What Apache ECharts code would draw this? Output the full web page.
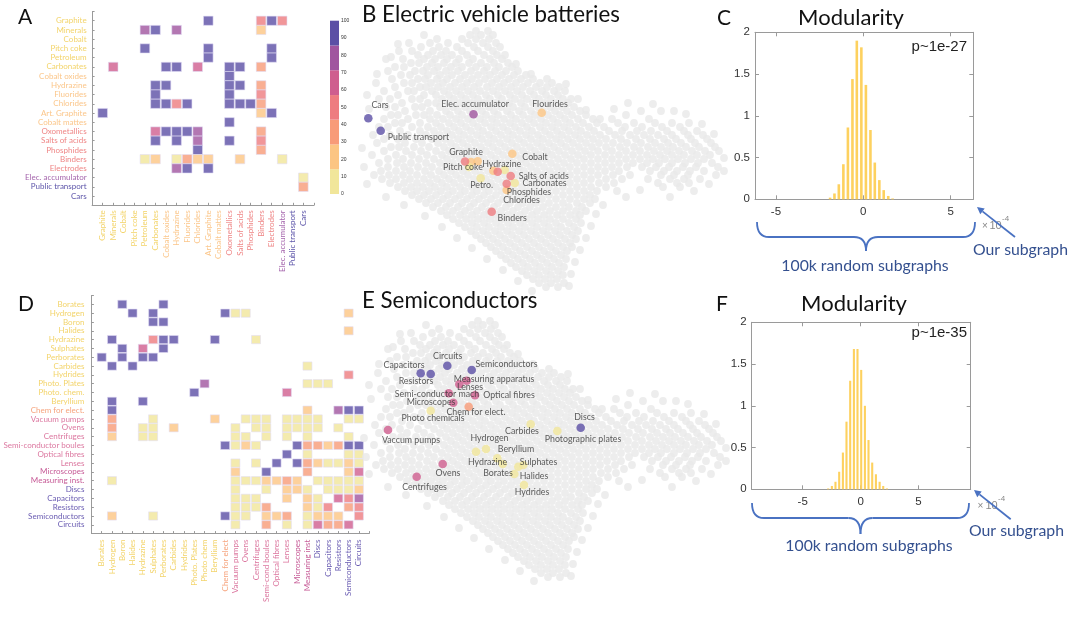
<!DOCTYPE html>
<html><head><meta charset="utf-8">
<script src="https://cdn.jsdelivr.net/npm/echarts@6/dist/echarts.min.js"></script>
<style>html,body{margin:0;padding:0;background:#fff}#c{width:1079px;height:617px}</style>
</head><body><div id="c"></div>
<script>
// ---------- data ----------
const bandColors = ['#f1e69a','#fcc583','#f89b78','#ee7c80','#cf5e8e','#a0559f','#5b4fa5'];
const bandEdges = [0,14.3,28.6,42.9,57.1,71.4,85.7,100];

const namesA = ['Graphite','Minerals','Cobalt','Pitch coke','Petroleum','Carbonates','Cobalt oxides','Hydrazine','Fluorides','Chlorides','Art. Graphite','Cobalt mattes','Oxometallics','Salts of acids','Phosphides','Binders','Electrodes','Elec. accumulator','Public transport','Cars'];
const groupA = [0,0,0,0,0,0,1,1,1,1,1,1,2,2,2,2,2,3,4,4];
const paletteA = ['#f3d46b','#fbc68a','#ef8686','#a566ad','#5d55a9'];
// [col, row, value]
const cellsA = [
[10,0,95],[15,0,50],[16,0,95],[17,0,50],
[4,1,78],[5,1,95],[7,1,78],[15,1,21],
[4,3,95],[10,3,95],[16,3,95],
[10,4,95],[16,4,95],
[1,5,64],[6,5,95],[7,5,95],[9,5,64],[12,5,95],[13,5,95],[15,5,36],
[12,6,95],
[5,7,95],[6,7,95],[12,7,95],[13,7,95],[15,7,36],
[5,8,95],[12,8,95],[15,8,50],
[5,9,95],[6,9,95],[7,9,50],[8,9,95],[12,9,95],[13,9,95],[14,9,95],[15,9,36],
[0,10,95],[15,10,21],[16,10,95],
[12,11,95],
[5,12,64],[6,12,95],[7,12,95],[8,12,95],[9,12,78],[15,12,36],
[5,13,95],[7,13,95],[9,13,78],[12,13,95],[15,13,50],
[9,14,95],[15,14,36],
[4,15,7],[5,15,21],[7,15,7],[8,15,36],[9,15,21],[10,15,21],[13,15,21],[17,15,7],
[7,16,78],[8,16,95],[10,16,95],
[19,17,7],
[19,18,36]
];

const namesDy = ['Borates','Hydrogen','Boron','Halides','Hydrazine','Sulphates','Perborates','Carbides','Hydrides','Photo. Plates','Photo. chem.','Beryllium','Chem for elect.','Vacuum pumps','Ovens','Centrifuges','Semi-conductor boules','Optical fibres','Lenses','Microscopes','Measuring inst.','Discs','Capacitors','Resistors','Semiconductors','Circuits'];
const namesDx = ['Borates','Hydrogen','Boron','Halides','Hydrazine','Sulphates','Perborates','Carbides','Hydrides','Photo. Plates','Photo chem','Beryllium','Chem for elect','Vacuum pumps','Ovens','Centrifuges','Semi-cond boules','Optical fibres','Lenses','Microscopes','Measuring inst','Discs','Capacitors','Resistors','Semiconductors','Circuits'];
const groupD = [0,0,0,0,0,0,0,0,0,0,0,0,1,2,2,2,2,2,2,3,3,4,4,4,4,4];
const paletteD = ['#f3d46b','#f6a37c','#dc78a0','#c65a96','#6a5cb2'];
const cellsD = [
[2,0,95],[6,0,95],
[3,1,95],[5,1,95],[12,1,95],[13,1,7],[14,1,7],[24,1,21],
[5,2,95],[6,2,95],
[24,3,21],
[1,4,95],[5,4,50],[6,4,95],[7,4,95],[11,4,95],[15,4,7],
[2,5,95],[4,5,64],[6,5,95],
[0,6,95],[2,6,95],[4,6,95],[5,6,95],
[1,7,95],[3,7,95],[20,7,7],
[24,8,50],
[10,9,78],[20,9,7],[21,9,7],[22,9,7],
[9,10,95],[18,10,64],
[1,11,95],[4,11,95],
[1,12,95],[20,12,21],[23,12,78],[24,12,95],[25,12,95],
[1,13,36],[5,13,7],[11,13,21],[14,13,7],[15,13,7],[16,13,7],[18,13,7],[19,13,7],[20,13,7],[21,13,7],[24,13,7],[25,13,7],
[1,14,36],[4,14,7],[5,14,7],[7,14,21],[13,14,7],[15,14,7],[16,14,7],[18,14,7],[19,14,7],[20,14,7],[21,14,7],[23,14,7],
[1,15,21],[4,15,7],[5,15,7],[13,15,7],[14,15,7],[16,15,7],[18,15,7],[20,15,7],[24,15,7],
[12,16,95],[13,16,7],[14,16,21],[15,16,7],[19,16,95],[20,16,36],[21,16,36],[22,16,21],[23,16,36],[24,16,95],[25,16,95],
[18,17,95],[20,17,7],[24,17,7],[25,17,7],
[13,18,7],[15,18,7],[17,18,95],[19,18,95],[20,18,36],[21,18,21],[22,18,7],[23,18,7],[24,18,21],[25,18,7],
[13,19,21],[16,19,95],[20,19,36],[24,19,21],[25,19,64],
[1,20,7],[13,20,7],[14,20,7],[15,20,7],[16,20,21],[17,20,21],[18,20,36],[19,20,21],[21,20,7],[22,20,7],[23,20,7],[24,20,7],[25,20,7],
[13,21,7],[16,21,7],[18,21,21],[19,21,21],[20,21,7],[22,21,7],[23,21,7],[24,21,7],[25,21,21],
[13,22,7],[14,22,7],[15,22,7],[18,22,21],[20,22,21],[21,22,7],[23,22,64],[24,22,50],[25,22,78],
[13,23,7],[14,23,7],[15,23,7],[16,23,36],[20,23,21],[21,23,7],[22,23,50],[24,23,36],[25,23,50],
[1,24,21],[5,24,7],[12,24,95],[13,24,7],[14,24,7],[16,24,21],[17,24,21],[18,24,36],[20,24,7],[21,24,21],[22,24,21],[23,24,21],[25,24,50],
[13,25,7],[16,25,36],[18,25,7],[20,25,7],[21,25,64],[22,25,36],[23,25,36],[24,25,64]
];

// background embedding cloud: rows of [y, x1, x2, ...] (embedding units)
const cloudRows = [
[31,476,488],
[35,424,470,481,493],
[39,437,462,476,489],
[43,409,430,448,468,483,496],
[47,421,439,457,474,488,500],
[51,399,412,433,446,462,478,493],
[55,418,428,441,452,467,484,497,505],
[59,386,403,424,435,447,459,473,490,502],
[63,411,419,432,444,456,469,481,494,508],
[67,395,404,427,438,451,462,476,487,499,512],
[71,388,415,423,434,446,458,471,484,495,506,518],
[75,401,410,428,440,452,465,478,490,502,514,526],
[79,392,418,425,437,447,460,472,485,497,509,521,533],
[83,376,404,412,431,443,455,467,479,492,504,516,528,540,552],
[87,395,420,426,438,450,462,474,487,499,511,523,536,547,559],
[91,384,408,414,432,444,456,468,480,493,505,517,530,542,554,565],
[95,398,424,436,449,461,473,486,498,510,522,534,546,558],
[99,379,390,412,420,442,454,466,478,490,502,515,527,539,551,563,571],
[103,402,428,436,448,460,472,484,496,509,521,533,545,557,568],
[107,386,395,415,422,440,453,465,477,489,501,513,525,538,550,562,574],
[111,405,430,446,458,470,482,494,507,519,531,543,555,567,580,641,661,674],
[115,391,398,416,424,437,450,462,474,486,498,511,523,535,548,560,572,586,626],
[119,384,408,430,443,456,468,480,492,504,516,529,541,553,565,578,593,612,649],
[123,395,402,420,436,449,461,473,485,497,510,522,534,546,558,570,583,597,618,634,655,672,689],
[127,379,388,412,428,441,454,466,478,491,503,515,527,540,552,564,576,589,604,625,642,662,680],
[131,400,420,434,447,459,471,483,496,508,520,532,545,557,569,581,594,609,622,637,651,667,684,697],
[135,373,390,408,426,440,452,464,477,489,501,513,526,538,550,562,575,587,600,615,630,644,658,672,688,703],
[139,384,398,416,432,445,458,470,482,494,507,519,531,543,556,568,580,593,606,621,636,650,664,676,691,707],
[143,377,405,422,438,451,463,475,488,500,512,524,537,549,561,573,586,599,613,627,641,655,668,681,695,711],
[147,391,399,414,429,444,456,468,481,493,505,517,530,542,554,566,579,592,606,620,634,648,661,673,686,699,715],
[151,384,406,421,436,449,461,474,486,498,510,523,535,547,559,572,585,598,612,626,640,654,667,679,692,705,719],
[155,372,396,412,427,442,454,467,479,491,503,516,528,540,552,565,578,591,605,619,633,647,660,672,684,697,710],
[159,388,403,419,434,447,460,472,484,496,509,521,533,545,558,571,584,598,612,626,640,653,665,678,691,704],
[163,379,397,411,426,440,453,465,477,489,502,514,526,538,551,564,577,591,605,619,633,647,659,672,685,698,712],
[167,364,388,404,418,432,446,458,470,482,495,507,519,531,544,557,570,584,598,612,627,642,656,669,683,696,718],
[171,381,396,410,425,439,451,463,475,488,500,512,524,537,550,563,577,591,605,619,650,664,677,690,704],
[175,374,389,403,417,431,444,456,468,481,493,505,517,530,543,556,570,584,598,613,630,661,674,688,716],
[179,382,396,410,424,437,449,461,474,486,498,510,523,536,549,563,577,591,606,622,648,670,684,700],
[183,390,404,417,430,442,454,467,479,491,503,516,529,542,556,570,584,599,614,658,677,689],
[187,398,411,423,435,447,460,472,484,496,509,522,535,549,563,577,591,606,663,680],
[191,405,417,429,441,453,465,477,489,502,515,528,542,556,570,584,597,617],
[195,412,424,436,448,460,472,484,496,509,522,535,549,563,577,590],
[199,419,431,443,455,467,479,491,503,516,529,542,556,570,584,595],
[203,426,438,450,462,474,486,498,510,523,536,549,563,577,590],
[207,433,446,458,470,482,494,506,518,530,543,556,569,582],
[211,441,453,465,477,489,501,513,525,537,550,563,576,586],
[215,447,460,472,484,496,508,520,532,544,557,570,580],
[219,453,466,478,490,502,514,526,538,550,563,576],
[223,459,472,484,496,508,520,532,544,556,569,581],
[227,465,477,489,501,513,525,537,549,561,574],
[231,471,483,495,507,519,531,543,555,567,578],
[235,476,488,500,512,524,536,548,560,572],
[239,481,493,505,517,529,541,553,565,576],
[243,486,498,510,522,534,546,558,570],
[247,491,503,515,527,539,551,563,572],
[251,496,508,520,532,544,556,567],
[255,501,513,525,537,549,561],
[259,506,518,530,542,554,566],
[263,511,523,535,547,559],
[267,516,528,540,552,564],
[271,522,534,546,558],
[275,527,539,551,563],
[279,533,545,557],
[283,539,551,564],
[287,546,558]
];
// scattered outlying points around the edge of the cloud: [x, y]
const cloudEdge = [
[398,44],[391,57],[377,74],[367,95],[369,109],[362,148],[367,184],[386,197],[404,205],[425,216],
[442,227],[457,238],[472,248],[487,259],[503,270],[518,281],[532,291],
[516,64],[531,74],[547,79],[566,84],[578,99],[586,110],[600,119],[614,109],[628,103],
[653,104],[686,114],[702,124],[714,134],[724,158],[724,171],[709,184],[694,191],[670,197],
[640,190],[626,197],[603,205],[596,214],[591,226],[586,238],[580,250],[575,262],[571,274],[569,286]
];

// highlighted products: [x, y, colour band]
const dotsB = [
[368.3,118.3,6],[380.7,130.7,6],[473.5,114.3,5],[541.7,112.7,1],[512.3,153.7,1],
[471,162,1],[477.7,161.3,1],[469,167,0],[465,161.5,3],
[493.3,170.7,1],[504.7,170,0],[497.7,171.7,3],[480.7,178.3,0],
[514.7,183,0],[510.7,176,3],[506.7,190,1],[506.7,183.7,3],[491.7,211.7,3]
];
const labelsB = [
['Cars',380,105],['Public transport',418.5,137],['Elec. accumulator',475,103.7],['Flourides',550,103.7],
['Graphite',466,151.7],['Pitch coke',463,166.7],['Hydrazine',501.7,164],['Cobalt',535,156.7],
['Petro.',481.7,185],['Salts of acids',543.8,175.7],['Carbonates',544.5,183],['Phosphides',529,191.7],
['Chlorides',521.5,200],['Binders',512.2,217.7]
];
const dotsE = [
[445.3,75.7,6],[418.7,83.3,6],[428.7,84,6],[469.7,80,6],
[464.7,90.7,4],[457.3,94.3,4],[446.7,103.3,4],[473,105.3,4],[451.3,112.7,4],
[466.7,116.7,2],[428.7,120.7,0],[386,140,4],[578.7,137.7,6],[555.3,141,0],[528.7,134.3,0],
[474,161.7,0],[484,159,0],[495.3,168.3,0],[500.7,174,0],[516.3,176.7,0],[521.3,175,0],
[512.3,184,0],[522,195,0],[440.7,174,4],[414.7,186.7,4]
];
const labelsE = [
['Circuits',445.7,66],['Capacitors',402,75],['Resistors',414,90.7],['Semiconductors',504.5,74],
['Measuring apparatus',492,89],['Lenses',468,96.7],['Semi-conductor mach',435,104.3],['Optical fibres',507,105.3],
['Microscopes',429,111.7],['Chem for elect.',474,122.3],['Photo chemicals',431,128.3],['Vaccum pumps',409,150.3],
['Discs',582.5,126.7],['Photographic plates',581,148.7],['Carbides',520,141],['Hydrogen',487.5,148.3],
['Beryllium',514,159.3],['Hydrazine',485.5,171.7],['Sulphates',536.5,171.7],['Borates',496,183.3],
['Halides',532,185.7],['Hydrides',530,201.7],['Ovens',446,183.3],['Centrifuges',422.5,196.7]
];

// modularity histograms (x in units of 1e-4)
const histCx = [-1.90,-1.65,-1.40,-1.14,-0.88,-0.62,-0.37,-0.11,0.15,0.41,0.66,0.92,1.17,1.43,1.68];
const histCy = [0.02,0.07,0.18,0.42,0.86,1.44,1.90,1.82,1.37,0.83,0.44,0.23,0.11,0.04,0.01];
const histFx = [-2.80,-2.48,-2.17,-1.85,-1.53,-1.22,-0.90,-0.58,-0.27,0.05,0.37,0.68,1.00,1.32,1.64,1.95,2.27];
const histFy = [0.01,0.04,0.09,0.21,0.44,0.81,1.30,1.68,1.68,1.43,1.00,0.59,0.32,0.18,0.09,0.04,0.01];
const histTicks = [-5,0,5];

// ---------- build ----------
const FONT = 'Lato';
const AX = '#9a9a9a';
const cloud = cloudEdge.slice();
cloudRows.forEach(r => { for (let i = 1; i < r.length; i++) cloud.push([r[i], r[0]]); });

function heatX(g, names, group, pal, margin) {
  return {gridIndex:g, type:'value', min:0, max:names.length+1, interval:1,
    axisLine:{onZero:false, lineStyle:{color:AX}}, axisTick:{inside:true, length:2.5, lineStyle:{color:AX}},
    splitLine:{show:false},
    axisLabel:{rotate:90, fontSize:8, fontFamily:FONT, margin:margin,
      formatter:v => names[v-1] || '', color:(v) => pal[group[Number(v)-1]] || '#fff'}};
}
function heatY(g, names, group, pal, margin) {
  return {gridIndex:g, type:'value', inverse:true, min:0, max:names.length+1, interval:1,
    axisLine:{onZero:false, lineStyle:{color:AX}}, axisTick:{inside:true, length:2.5, lineStyle:{color:AX}},
    splitLine:{show:false},
    axisLabel:{fontSize:8, fontFamily:FONT, margin:margin,
      formatter:v => names[v-1] || '', color:(v) => pal[group[Number(v)-1]] || '#fff'}};
}
function embAxes(g) {
  return [{gridIndex:g, type:'value', min:355, max:730, show:false},
          {gridIndex:g, type:'value', min:25, max:300, inverse:true, show:false}];
}
function histX(g, mn, mx, top) {
  return {gridIndex:g, type:'value', min:mn, max:mx, position: top ? 'top' : 'bottom',
    axisLine:{onZero:false, lineStyle:{color:AX}},
    axisTick:{inside:true, length:4, customValues:histTicks, lineStyle:{color:AX}},
    axisLabel:{show:!top, customValues:histTicks, fontSize:11.5, color:'#333', fontFamily:'Liberation Sans', margin:7},
    splitLine:{show:false}};
}
function histY(g, right) {
  return {gridIndex:g, type:'value', min:0, max:2, interval:0.5, position: right ? 'right' : 'left',
    axisLine:{onZero:false, lineStyle:{color:AX}},
    axisTick:{inside:true, length:4, lineStyle:{color:AX}},
    axisLabel:{show:!right, fontSize:11.5, color:'#333', fontFamily:'Liberation Sans', margin:5},
    splitLine:{show:false}};
}
const ea = embAxes(3), ee = embAxes(4);

const grids = [
  {left:92.1, top:11.5, width:221.8, height:193.8},       // 0 A
  {left:330, top:20.7, width:9, height:173.3},             // 1 colorbar
  {left:91.4, top:295.5, width:277.8, height:238.1},       // 2 D
  {left:355, top:25, width:375, height:275},               // 3 B
  {left:357, top:315, width:375, height:275},              // 4 E
  {left:755, top:32.3, width:218.3, height:167},           // 5 C
  {left:751.7, top:322.3, width:219, height:167}           // 6 F
].map(g => Object.assign({containLabel:false, outerBoundsMode:'none'}, g));

const xAxis = [
  heatX(0, namesA, groupA, paletteA, 5),
  {gridIndex:1, type:'category', data:['cb'], show:false},
  heatX(2, namesDx, groupD, paletteD, 6),
  ea[0], ee[0],
  histX(5, -6.2, 6.3, false), histX(5, -6.2, 6.3, true),
  histX(6, -9.4, 9.5, false), histX(6, -9.4, 9.5, true)
];
const yAxis = [
  heatY(0, namesA, groupA, paletteA, 5.5),
  {gridIndex:1, type:'value', min:0, max:100, interval:10, position:'right',
    axisLine:{show:false}, axisTick:{show:false}, splitLine:{show:false},
    axisLabel:{fontSize:5, color:'#333', margin:2, fontFamily:'Liberation Sans'}},
  heatY(2, namesDy, groupD, paletteD, 7),
  ea[1], ee[1],
  histY(5, false), histY(5, true), histY(6, false), histY(6, true)
];

const series = [];
series.push({type:'scatter', xAxisIndex:0, yAxisIndex:0, symbol:'rect', symbolSize:[9.6,9.2],
  itemStyle:{borderColor:'rgba(225,220,245,0.9)', borderWidth:0.8},
  data: cellsA.map(c => [c[0]+1, c[1]+1, c[2]])});
series.push({type:'scatter', xAxisIndex:2, yAxisIndex:2, symbol:'rect', symbolSize:[9,8.2],
  itemStyle:{borderColor:'rgba(225,220,245,0.9)', borderWidth:0.8},
  data: cellsD.map(c => [c[0]+1, c[1]+1, c[2]])});
for (let i = 0; i < 7; i++) {
  series.push({type:'bar', xAxisIndex:1, yAxisIndex:1, stack:'cb', barWidth:'100%',
    itemStyle:{color:bandColors[i]}, data:[bandEdges[i+1]-bandEdges[i]]});
}
function cloudSeries(ax) {
  return {type:'scatter', xAxisIndex:ax, yAxisIndex:ax, symbolSize:7.8, clip:false,
    itemStyle:{color:'#e9e9e9'}, data:cloud};
}
function dotSeries(ax, dots) {
  return {type:'scatter', xAxisIndex:ax, yAxisIndex:ax, symbolSize:8.6, clip:false,
    data: dots.map(d => ({value:[d[0], d[1]], itemStyle:{color:bandColors[d[2]]}}))};
}
function labelSeries(ax, labels) {
  return {type:'scatter', xAxisIndex:ax, yAxisIndex:ax, symbolSize:1, clip:false,
    itemStyle:{color:'rgba(0,0,0,0)'},
    label:{show:true, position:'inside', formatter:p => p.name, fontSize:8.8, fontFamily:FONT, color:'#333'},
    data: labels.map(l => ({name:l[0], value:[l[1], l[2]]}))};
}
series.push(cloudSeries(3), dotSeries(3, dotsB), labelSeries(3, labelsB));
series.push(cloudSeries(4), dotSeries(4, dotsE), labelSeries(4, labelsE));
series.push({type:'bar', xAxisIndex:5, yAxisIndex:5, barWidth:2.6, itemStyle:{color:'#fdd15f'},
  data: histCx.map((x,i) => [x, histCy[i]])});
series.push({type:'bar', xAxisIndex:7, yAxisIndex:7, barWidth:2.1, itemStyle:{color:'#fdd15f'},
  data: histFx.map((x,i) => [x, histFy[i]])});

const BLUE = '#4a72c2', NAVY = '#34508f';
function txt(t, x, y, size, color, align, family) {
  return {type:'text', x:x, y:y, silent:true, z:100,
    style:{text:t, fill:color || '#111', font: (size)+'px '+(family||FONT), textAlign:align||'left', textVerticalAlign:'middle'}};
}
function seg(x1, y1, x2, y2) {
  return {type:'line', silent:true, z:100, shape:{x1:x1, y1:y1, x2:x2, y2:y2}, style:{stroke:BLUE, lineWidth:1.8}};
}
function curve(x1, y1, cx, cy, x2, y2) {
  return {type:'bezierCurve', silent:true, z:100, shape:{x1:x1, y1:y1, x2:x2, y2:y2, cpx1:cx, cpy1:cy},
    style:{stroke:BLUE, lineWidth:1.8, fill:null}};
}
function brace(x0, x1, y0, y1, tipY) {
  const xm = (x0 + x1) / 2, r = 12;
  return [
    curve(x0, y0, x0, y1, x0 + r, y1),
    seg(x0 + r, y1, xm - r, y1),
    curve(xm - r, y1, xm, y1, xm, tipY),
    curve(xm, tipY, xm, y1, xm + r, y1),
    seg(xm + r, y1, x1 - r, y1),
    curve(x1 - r, y1, x1, y1, x1, y0)
  ];
}
function arrow(x0, y0, x1, y1) {
  const dx = x1-x0, dy = y1-y0, L = Math.hypot(dx,dy), ux = dx/L, uy = dy/L;
  const hl = 7, hw = 3.6, bx = x1-ux*hl, by = y1-uy*hl;
  return [
    {type:'line', silent:true, z:101, shape:{x1:x0, y1:y0, x2:bx, y2:by}, style:{stroke:BLUE, lineWidth:1.8}},
    {type:'polygon', silent:true, z:101, shape:{points:[[x1,y1],[bx-uy*hw, by+ux*hw],[bx+uy*hw, by-ux*hw]]}, style:{fill:BLUE}}
  ];
}
const gEls = [
  txt('A', 18, 17.5, 21, '#111'),
  txt('D', 18, 304, 21, '#111'),
  txt('B Electric vehicle batteries', 362, 15, 22.3, '#111'),
  txt('E Semiconductors', 362, 301, 22.3, '#111'),
  txt('C', 717, 18, 21, '#111'),
  txt('F', 716, 304, 21, '#111'),
  txt('Modularity', 851, 18, 22, '#111', 'center'),
  txt('Modularity', 854, 304, 22, '#111', 'center'),
  txt('p~1e-27', 967, 46.5, 15, '#222', 'right', 'Liberation Sans'),
  txt('p~1e-35', 967, 333, 15, '#222', 'right', 'Liberation Sans'),
  txt('\u00d7', 982, 226.5, 10, '#888', 'left', 'Liberation Sans'),
  txt('10', 989.5, 226, 11, '#888', 'left', 'Liberation Sans'),
  txt('-4', 1002, 218.5, 8, '#888', 'left', 'Liberation Sans'),
  txt('\u00d7', 977.5, 506.5, 10, '#888', 'left', 'Liberation Sans'),
  txt('10', 985.5, 506, 11, '#888', 'left', 'Liberation Sans'),
  txt('-4', 998, 499, 8, '#888', 'left', 'Liberation Sans'),
  ...brace(757, 975, 222, 237, 251),
  ...brace(752, 969, 503, 518, 534),
  txt('100k random subgraphs', 865, 265.5, 15.8, NAVY, 'center'),
  txt('100k random subgraphs', 869, 546, 15.8, NAVY, 'center'),
  txt('Our subgraph', 973, 250, 15.8, NAVY, 'left'),
  txt('Our subgraph', 969, 531, 15.8, NAVY, 'left'),
  ...arrow(1015, 237, 977, 207),
  ...arrow(1010.7, 519.3, 974, 490)
];

const chart = echarts.init(document.getElementById('c'), null, {renderer:'canvas'});
chart.setOption({
  animation:false,
  backgroundColor:'#fff',
  grid: grids, xAxis: xAxis, yAxis: yAxis,
  visualMap:[{type:'piecewise', show:false, seriesIndex:[0,1], dimension:2,
    pieces: bandColors.map((c,i) => ({gt:bandEdges[i], lte:bandEdges[i+1], color:c}))}],
  series: series,
  graphic:{elements:gEls}
});
</script>
</body></html>
